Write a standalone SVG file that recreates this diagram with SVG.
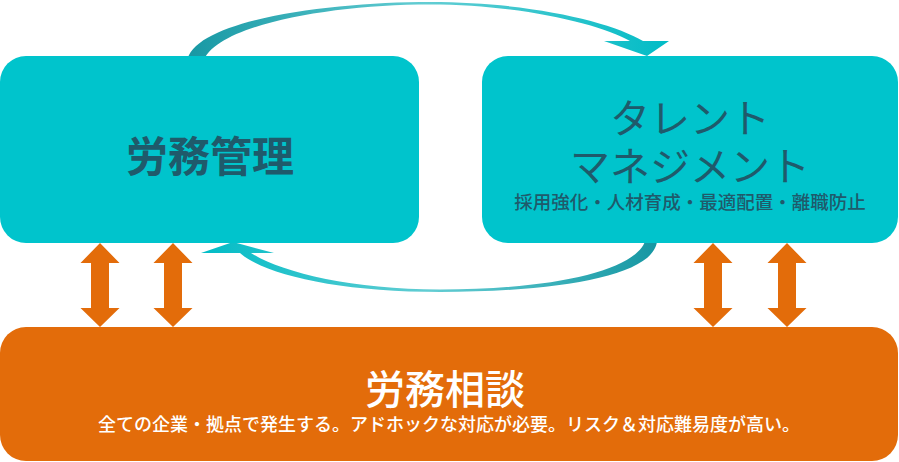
<svg xmlns="http://www.w3.org/2000/svg" xmlns:xlink="http://www.w3.org/1999/xlink" width="899" height="462" viewBox="0 0 899 462">
<style>
.teal{fill:#00C4CC}
.orange{fill:#E36C0A}
.dark{fill:#1F5A6B;font-family:"Noto Sans CJK JP","Noto Sans",sans-serif;text-anchor:middle}
.white{fill:#FFFFFF;font-family:"Noto Sans CJK JP","Noto Sans",sans-serif;text-anchor:middle}
.darrow{fill:#E36C0A}
</style>
<defs>
<linearGradient id="gTop" x1="180" y1="0" x2="670" y2="0" gradientUnits="userSpaceOnUse">
<stop offset="0" stop-color="#1596A2"/>
<stop offset="0.5" stop-color="#63CDD3"/>
<stop offset="1" stop-color="#00BCC6"/>
</linearGradient>
<linearGradient id="gBot" x1="200" y1="0" x2="660" y2="0" gradientUnits="userSpaceOnUse">
<stop offset="0" stop-color="#00BCC6"/>
<stop offset="0.5" stop-color="#63CDD3"/>
<stop offset="1" stop-color="#1596A2"/>
</linearGradient>
<polygon id="dbl" points="0,243 19.5,263 9,263 9,308 19.5,308 0,327 -19.5,308 -9,308 -9,263 -19.5,263"/>
</defs>
<g id="connectors">
<path fill="url(#gTop)" d="M 187 62 C 192 20, 330 2, 430 2 C 530 2, 612 22, 643 41 L 669 41 L 647 56 L 604 41 L 630 41 C 600 24, 520 4.5, 430 4.5 C 330 4.5, 215 25, 203 62 Z"/>
<path fill="url(#gBot)" d="M 657 238 C 660 275, 560 292, 440 292 C 340 292, 265 275, 240 253 L 201 253 L 233 242 L 274 253 L 251 253 C 280 272, 350 289.5, 440 289.5 C 555 289.5, 640 270, 646 238 Z"/>
<use xlink:href="#dbl" class="darrow" transform="translate(100,0)"/>
<use xlink:href="#dbl" class="darrow" transform="translate(173,0)"/>
<use xlink:href="#dbl" class="darrow" transform="translate(713,0)"/>
<use xlink:href="#dbl" class="darrow" transform="translate(787,0)"/>
</g>
<g id="node-roumu-kanri">
<rect class="teal" x="0" y="56" width="419" height="187" rx="26"/>
<text class="dark" x="210" y="172" font-size="42" font-weight="700">労務管理</text>
</g>
<g id="node-talent">
<rect class="teal" x="482" y="56" width="416" height="187" rx="26"/>
<text class="dark" x="690" y="133" font-size="40" font-weight="400">タレント</text>
<text class="dark" x="690" y="181" font-size="40" font-weight="400">マネジメント</text>
<text class="dark" x="690" y="209" font-size="18.5" font-weight="500">採用強化・人材育成・最適配置・離職防止</text>
</g>
<g id="node-roumu-soudan">
<rect class="orange" x="0" y="327" width="898" height="134" rx="26"/>
<text class="white" x="445" y="404" font-size="40" font-weight="500">労務相談</text>
<text class="white" x="449" y="431" font-size="18" font-weight="500">全ての企業・拠点で発生する。アドホックな対応が必要。リスク＆対応難易度が高い。</text>
</g>
</svg>
